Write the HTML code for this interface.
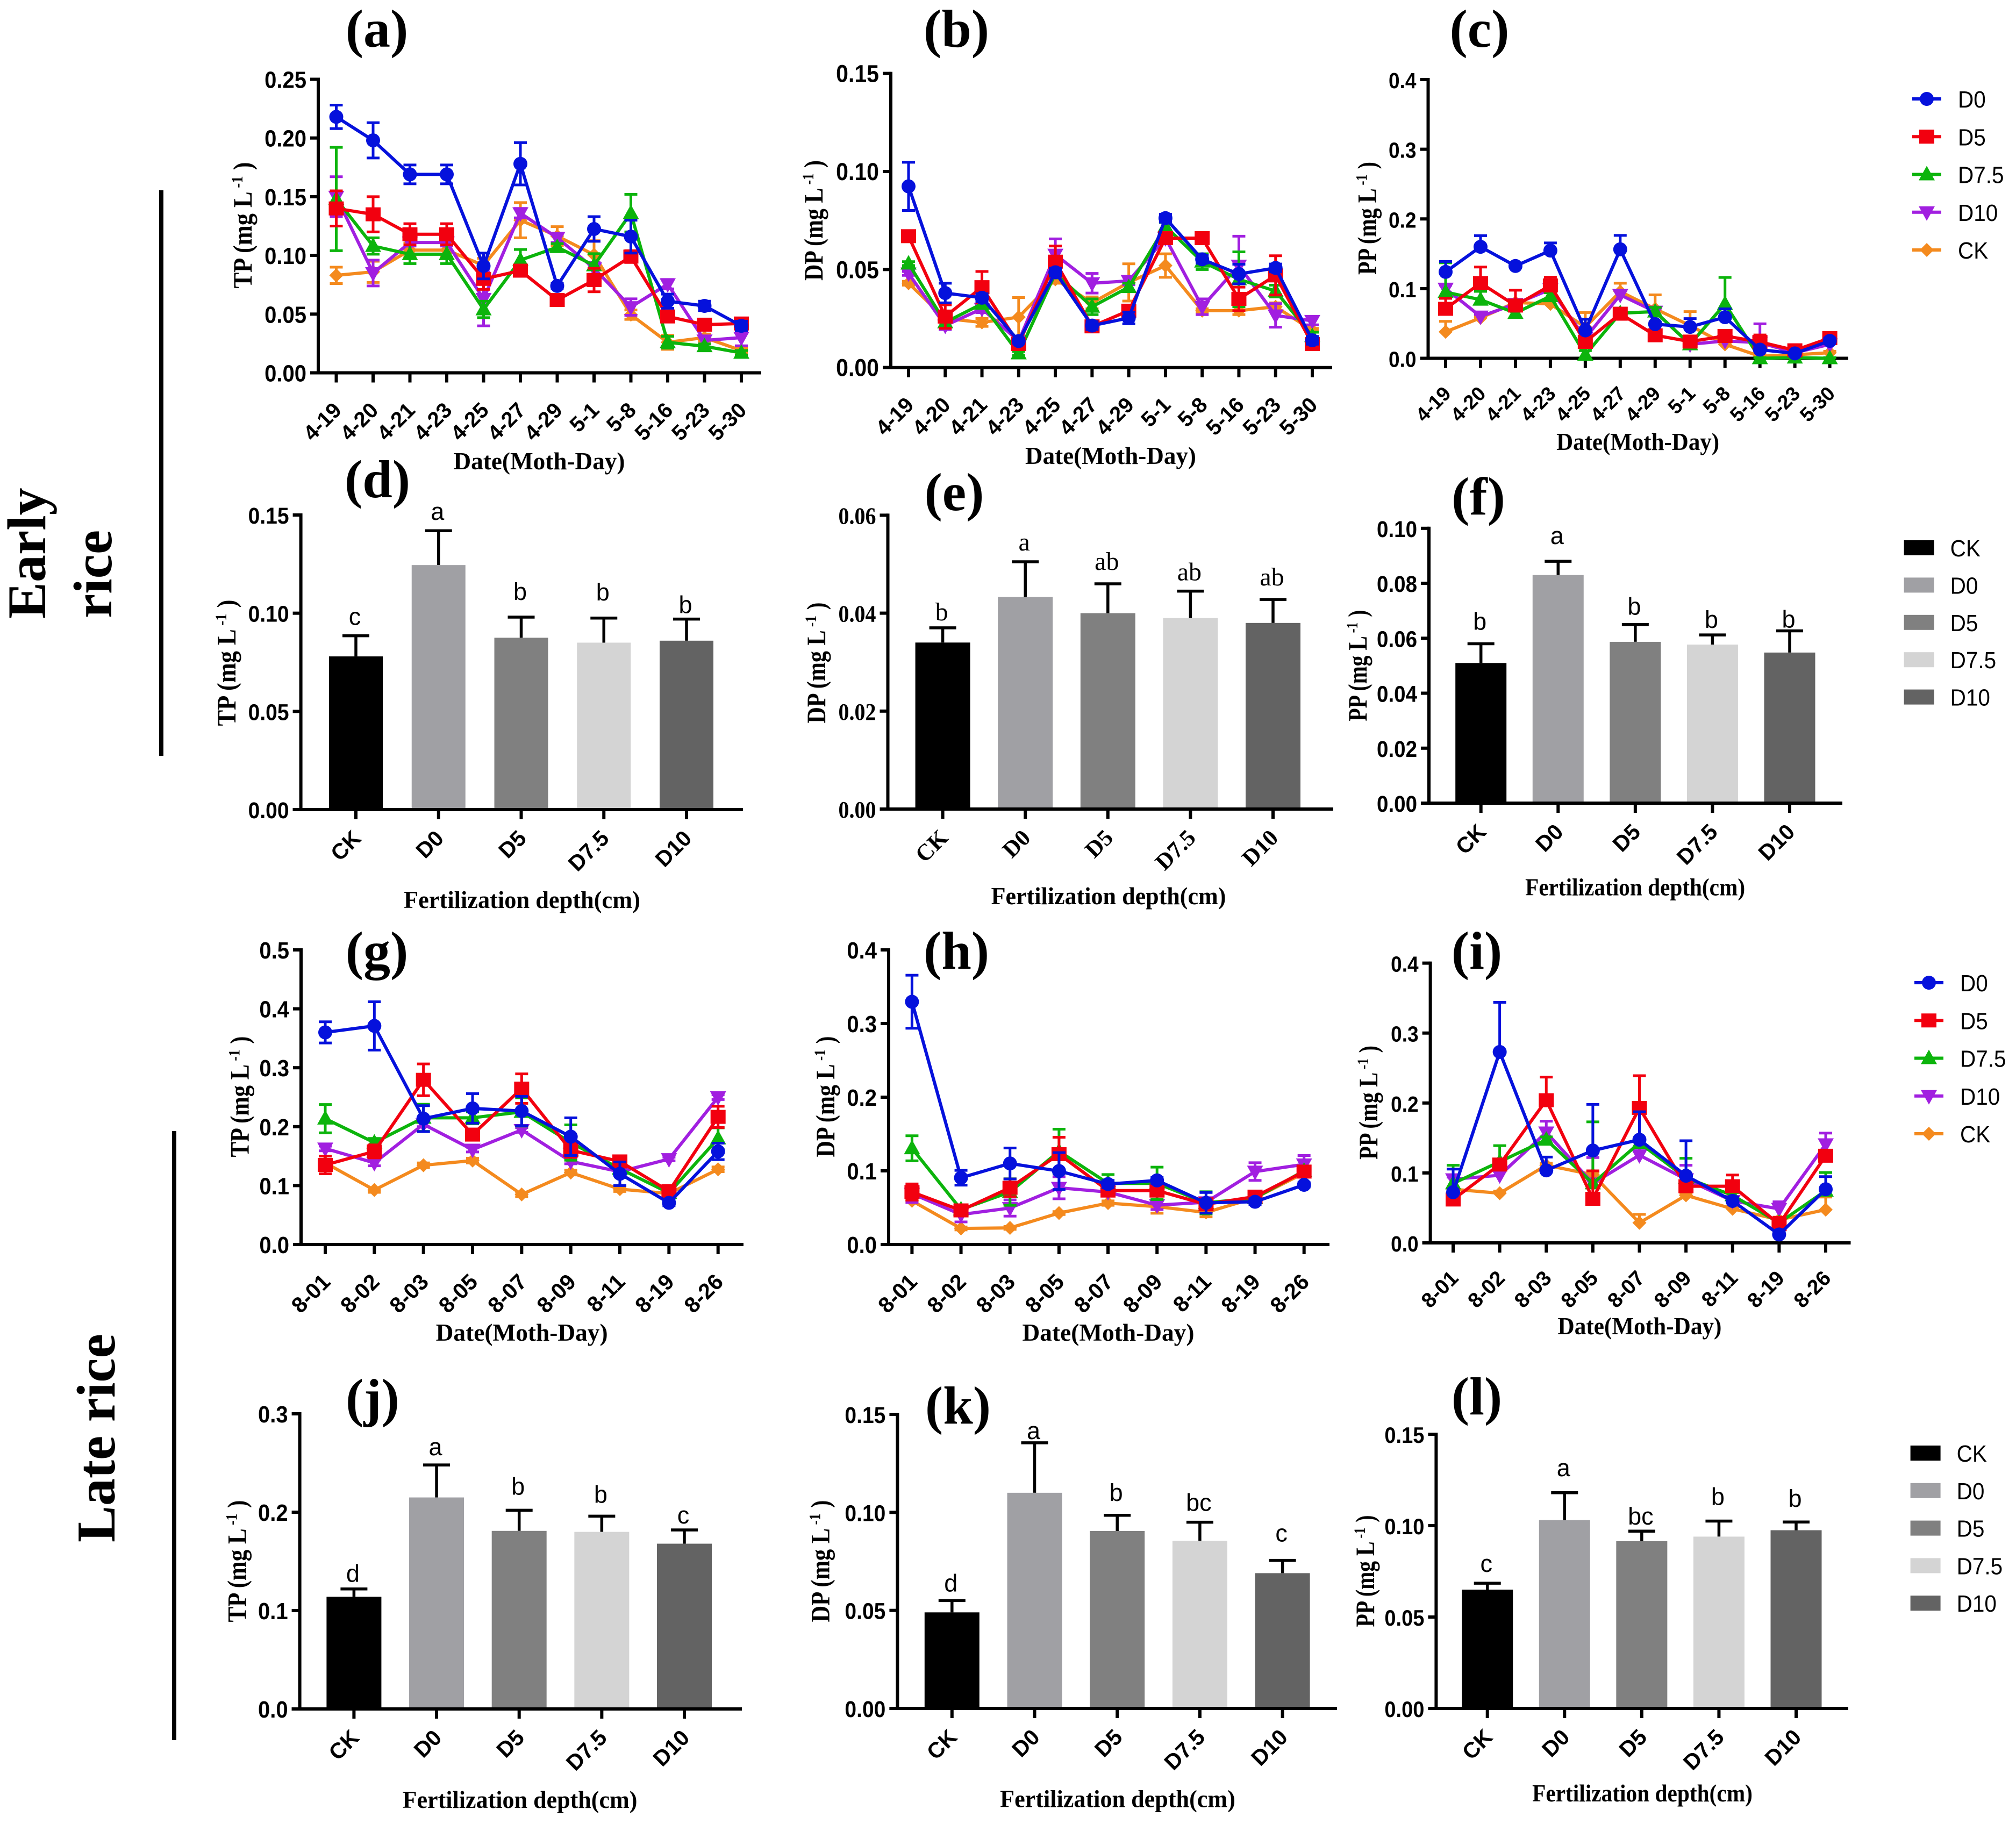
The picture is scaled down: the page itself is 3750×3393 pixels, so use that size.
<!DOCTYPE html>
<html lang="en">
<head>
<meta charset="utf-8">
<title>Phosphorus concentration by fertilization depth</title>
<style>
html,body{margin:0;padding:0;background:#fff;}
svg{display:block;}
text{fill:#000;}
</style>
</head>
<body>
<svg id="fig" xmlns="http://www.w3.org/2000/svg" width="3750" height="3393" viewBox="0 0 3750 3393">
<rect x="0" y="0" width="3750" height="3393" fill="#fff"/>
<g font-family="'Liberation Serif',serif" font-weight="700" font-size="100" text-anchor="middle">
<text x="701" y="87">(a)</text>
<text x="1779" y="87">(b)</text>
<text x="2752" y="87">(c)</text>
<text x="702" y="925">(d)</text>
<text x="1775" y="949">(e)</text>
<text x="2750" y="957">(f)</text>
<text x="701" y="1802">(g)</text>
<text x="1779" y="1802">(h)</text>
<text x="2747" y="1802">(i)</text>
<text x="693" y="2634">(j)</text>
<text x="1782" y="2648">(k)</text>
<text x="2747" y="2631">(l)</text>
</g>
<g font-family="'Liberation Serif',serif" font-weight="700" font-size="102">
<text transform="translate(84 1151) rotate(-90)">Early</text>
<text transform="translate(207 1150) rotate(-90)">rice</text>
<text transform="translate(213 2869) rotate(-90)">Late rice</text>
</g>
<rect x="296" y="354" width="8" height="1052" fill="#000"/>
<rect x="320" y="2104" width="8" height="1133" fill="#000"/>
<g id="plots"></g>
</svg>
<script>
const earlyDates=['4-19','4-20','4-21','4-23','4-25','4-27','4-29','5-1','5-8','5-16','5-23','5-30'];
const lateDates=['8-01','8-02','8-03','8-05','8-07','8-09','8-11','8-19','8-26'];
const depthCategories=['CK','D0','D5','D7.5','D10'];
const legendLineLabels=['D0','D5','D7.5','D10','CK'];

const aTicks=['0.00','0.05','0.10','0.15','0.20','0.25'];
const aD0=[.218,.198,.169,.169,.091,.178,.074,.1225,.116,.061,.057,.040];
const aD0Err=[.010,.015,.008,.008,.011,.018,.002,.0105,.014,.006,.004,.004];
const aD5=[.140,.135,.118,.118,.080,.087,.062,.079,.099,.048,.041,.042];
const aD5Err=[.015,.015,.009,.009,.009,.003,.002,.010,.005,.004,.003,.003];
const aD75=[.148,.108,.101,.101,.054,.096,.107,.0915,.136,.026,.0226,.017];
const aD75Err=[.044,.007,.008,.008,.007,.009,.003,.010,.016,.005,.002,.002];
const aD10=[.150,.085,.111,.111,.063,.136,.115,.089,.056,.0755,.0276,.030];
const aD10Err=[.017,.011,.003,.003,.023,.004,.004,.005,.007,.004,.003,.007];
const aCK=[.083,.086,.1045,.1045,.0915,.130,.1165,.1005,.0495,.026,.030,.019];
const aCKErr=[.007,.009,.006,.006,.006,.015,.008,.012,.004,.006,.003,.002];

const bTicks=['0.00','0.05','0.10','0.15'];
const bD0=[.0924,.038,.0356,.0135,.0486,.0214,.0253,.0762,.0552,.0477,.0508,.0139];
const bD0Err=[.0123,.005,.002,.001,.002,.002,.003,.002,.002,.005,.002,.002];
const bD5=[.067,.026,.041,.012,.054,.021,.029,.066,.066,.035,.047,.012];
const bD5Err=[.001,.006,.008,.001,.008,.001,.001,.001,.001,.006,.010,.001];
const bD75=[.053,.023,.0325,.0072,.048,.031,.041,.072,.054,.045,.039,.016];
const bD75Err=[.001,.002,.002,.001,.002,.004,.002,.002,.004,.014,.003,.002];
const bD10=[.048,.0214,.030,.0135,.0576,.043,.0442,.066,.031,.052,.0266,.0238];
const bD10Err=[.001,.002,.002,.001,.008,.005,.002,.002,.004,.015,.006,.002];
const bCK=[.043,.025,.023,.0257,.045,.033,.0434,.052,.029,.029,.031,.019];
const bCKErr=[.001,.002,.002,.010,.002,.003,.0095,.006,.001,.002,.002,.001];

const cTicks=['0.0','0.1','0.2','0.3','0.4'];
const cD0=[.124,.160,.1325,.1546,.040,.1564,.049,.045,.059,.0124,.007,.025];
const cD0Err=[.015,.016,.004,.011,.016,.020,.003,.012,.012,.004,.002,.004];
const cD5=[.071,.108,.0757,.1045,.0235,.064,.033,.024,.032,.0235,.0115,.029];
const cD5Err=[.015,.023,.022,.012,.004,.004,.003,.003,.004,.010,.003,.004];
const cD75=[.095,.084,.065,.089,.005,.0647,.067,.020,.078,.000,.001,.000];
const cD75Err=[.042,.012,.004,.005,.006,.004,.006,.005,.038,.001,.001,.001];
const cD10=[.100,.060,.078,.099,.029,.091,.067,.020,.025,.0225,.008,.020];
const cD10Err=[.005,.003,.005,.005,.004,.006,.005,.002,.002,.027,.002,.003];
const cCK=[.038,.058,.080,.078,.0447,.0957,.071,.047,.020,.003,.005,.008];
const cCKErr=[.015,.002,.003,.006,.021,.012,.020,.020,.002,.002,.001,.002];

const gTicks=['0.0','0.1','0.2','0.3','0.4','0.5'];
const gD0=[.360,.371,.2136,.231,.2265,.183,.120,.0707,.158];
const gD0Err=[.018,.041,.022,.025,.025,.032,.020,.005,.014];
const gD5=[.135,.158,.2795,.1865,.2646,.160,.141,.0905,.2166];
const gD5Err=[.015,.011,.027,.005,.025,.012,.004,.005,.018];
const gD75=[.2136,.173,.215,.215,.225,.173,.1286,.0875,.180];
const gD75Err=[.024,.007,.023,.010,.024,.030,.005,.004,.018];
const gD10=[.163,.1385,.204,.161,.1944,.141,.1236,.145,.250];
const gD10Err=[.004,.005,.004,.004,.004,.004,.004,.003,.004];
const gCK=[.1385,.0925,.1345,.1424,.085,.122,.094,.0865,.1276];
const gCKErr=[.004,.004,.004,.004,.004,.004,.004,.004,.004];

const hTicks=['0.0','0.1','0.2','0.3','0.4'];
const hD0=[.3296,.0906,.110,.0997,.082,.087,.0566,.058,.081];
const hD0Err=[.036,.010,.021,.025,.005,.004,.014,.004,.003];
const hD5=[.0712,.0463,.077,.1226,.0732,.0732,.0546,.065,.099];
const hD5Err=[.011,.005,.012,.023,.005,.006,.005,.003,.004];
const hD75=[.1306,.0475,.0712,.1266,.083,.083,.0566,.063,.100];
const hD75Err=[.017,.003,.018,.030,.012,.022,.015,.002,.005];
const hD10=[.069,.0407,.0495,.077,.0712,.0534,.0574,.099,.1088];
const hD10Err=[.012,.010,.011,.015,.004,.006,.004,.012,.012];
const hCK=[.0593,.0218,.0225,.0427,.0562,.0514,.0435,.0633,.097];
const hCKErr=[.002,.002,.002,.002,.003,.009,.006,.002,.002];

const iTicks=['0.0','0.1','0.2','0.3','0.4'];
const iD0=[.0725,.273,.1037,.132,.1475,.096,.060,.012,.0767];
const iD0Err=[.033,.071,.019,.066,.040,.050,.005,.006,.018];
const iD5=[.062,.112,.204,.063,.193,.081,.081,.0267,.1246];
const iD5Err=[.014,.004,.033,.040,.046,.005,.016,.010,.005];
const iD75=[.085,.116,.1475,.085,.143,.093,.068,.0287,.0746];
const iD75Err=[.026,.023,.004,.088,.055,.028,.004,.004,.026];
const iD10=[.091,.0967,.158,.085,.1254,.091,.060,.0487,.141];
const iD10Err=[.003,.005,.016,.037,.065,.020,.004,.010,.016];
const iCK=[.0767,.071,.111,.0975,.0287,.068,.0487,.033,.0475];
const iCKErr=[.003,.003,.003,.004,.012,.003,.003,.003,.018];

const dTicks=['0.00','0.05','0.10','0.15'];
const dMeans=[.078,.1245,.0875,.085,.086];
const dErrs=[.0105,.0175,.0105,.0125,.011];
const dLetters=['c','a','b','b','b'];

const eTicks=['0.00','0.02','0.04','0.06'];
const eMeans=[.034,.0433,.040,.039,.038];
const eErrs=[.003,.0072,.006,.0055,.0048];
const eLetters=['b','a','ab','ab','ab'];

const fTicks=['0.00','0.02','0.04','0.06','0.08','0.10'];
const fMeans=[.051,.083,.0587,.0577,.0548];
const fErrs=[.007,.005,.0063,.0035,.0079];
const fLetters=['b','a','b','b','b'];

const jTicks=['0.0','0.1','0.2','0.3'];
const jMeans=[.114,.215,.181,.180,.168];
const jErrs=[.008,.033,.021,.016,.014];
const jLetters=['d','a','b','b','c'];

const kTicks=['0.00','0.05','0.10','0.15'];
const kMeans=[.049,.110,.0905,.0855,.069];
const kErrs=[.006,.0255,.008,.0095,.0065];
const kLetters=['d','a','b','bc','c'];

const lTicks=['0.00','0.05','0.10','0.15'];
const lMeans=[.065,.103,.0915,.094,.0975];
const lErrs=[.0035,.015,.0055,.0085,.0045];
const lLetters=['c','a','bc','b','b'];

const SVGNS='http://www.w3.org/2000/svg';
const SANS="'Liberation Sans',sans-serif";
const SERIF="'Liberation Serif',serif";
const plots=document.getElementById('plots');
const seriesStyle={CK:{color:'#f48a1e',shape:'diamond'},D10:{color:'#a11fe0',shape:'down'},'D7.5':{color:'#0cb40c',shape:'up'},D5:{color:'#f2000f',shape:'square'},D0:{color:'#0511dc',shape:'circle'}};
const barFill={CK:'#000000',D0:'#a0a0a4','D5':'#808080','D7.5':'#d4d4d4',D10:'#636363'};

function mk(parent,tag,attrs,txt){
  const e=document.createElementNS(SVGNS,tag);
  for(const k in attrs)e.setAttribute(k,attrs[k]);
  if(txt!==undefined)e.textContent=txt;
  parent.appendChild(e);
  return e;
}
function fitText(el,x,y,rot,len){
  const natural=el.getComputedTextLength()||len;
  el.setAttribute('transform','translate('+x+' '+y+') rotate('+rot+') scale('+(len/natural)+' 1)');
}
function marker(g,shape,cx,cy,color){
  if(shape==='circle')return mk(g,'circle',{cx:cx,cy:cy,r:13,fill:color});
  if(shape==='square')return mk(g,'rect',{x:cx-14,y:cy-13,width:28,height:26,fill:color});
  const p=shape==='up'?[[cx,cy-16],[cx+15,cy+11],[cx-15,cy+11]]:shape==='down'?[[cx,cy+16],[cx+15,cy-11],[cx-15,cy-11]]:[[cx,cy-13],[cx+13,cy],[cx,cy+13],[cx-13,cy]];
  return mk(g,'polygon',{points:p.map(q=>q.join(',')).join(' '),fill:color});
}
function drawFrame(g,p,cats,xFn,yFn){
  const tickFont=p.serif?SERIF:SANS;
  const yAxis=mk(g,'line',{x1:p.axisX,x2:p.axisX,y1:p.yTop-3,y2:p.yZero+3,stroke:'#000','stroke-width':6});
  
  
  const xAxis=mk(g,'line',{x1:p.axisX-15,x2:p.xEnd,y1:p.yZero,y2:p.yZero,stroke:'#000','stroke-width':6});
  
  
  p.ticks.forEach(t=>{
    const yy=yFn(parseFloat(t));
    const tk=mk(g,'line',{x1:p.axisX-15,x2:p.axisX,y1:yy,y2:yy,stroke:'#000','stroke-width':6});
    
    
    const lb=mk(g,'text',{'text-anchor':'end','font-family':tickFont,'font-weight':700,'font-size':p.tickFs*1.1,transform:'translate('+(p.axisX-22)+' '+(yy+16)+') scale(.91 1)'},t);
    
    
  });
  cats.forEach((c,i)=>{
    const xx=xFn(i);
    const tk=mk(g,'line',{x1:xx,x2:xx,y1:p.yZero,y2:p.yZero+18,stroke:'#000','stroke-width':6});
    
    
    const lb=mk(g,'text',{'text-anchor':'end','font-family':tickFont,'font-weight':700,'font-size':p.catFs,transform:'translate('+(xx+12)+' '+(p.yZero+p.catDrop)+') rotate(-45)'},c);
    
    
  });
  const xt=mk(g,'text',{'text-anchor':'middle','font-family':SERIF,'font-weight':700,'font-size':46},p.xTitle[3]);
  
  
  fitText(xt,p.xTitle[0],p.xTitle[1],0,p.xTitle[2]);
  const yt=mk(g,'text',{'text-anchor':'middle','font-family':SERIF,'font-weight':700,'font-size':50});
  
  
  mk(yt,'tspan',{},p.yName+' (mg L');
  mk(yt,'tspan',{dy:-17,'font-size':30},' -1');
  mk(yt,'tspan',{dy:17},' )');
  fitText(yt,p.yTitle[0],p.yTitle[1],-90,p.yTitle[2]);
}
function lineChart(p){
  const g=mk(plots,'g',{});
  
  
  const tops=p.ticks.map(parseFloat);
  const yMax=Math.max.apply(null,tops);
  const yFn=v=>p.yZero-(v/yMax)*(p.yZero-p.yTop);
  const n=p.cats.length;
  const xFn=i=>p.xFirst+i*(p.xLast-p.xFirst)/(n-1);
  drawFrame(g,p,p.cats,xFn,yFn);
  p.series.forEach(s=>{
    const st=seriesStyle[s.name];
    const sg=mk(g,'g',{});
    
    
    s.vals.forEach((v,i)=>{
      const xx=xFn(i),yc=yFn(v),yt=yFn(v+s.errs[i]),yb=p.both?yFn(Math.max(v-s.errs[i],0)):yc;
      const eb=mk(sg,'path',{d:'M'+(xx-12)+' '+yt+'H'+(xx+12)+'M'+xx+' '+yt+'V'+yb+(p.both?'M'+(xx-12)+' '+yb+'H'+(xx+12):''),stroke:st.color,'stroke-width':5,fill:'none'});
      
      
    });
    const ln=mk(sg,'polyline',{points:s.vals.map((v,i)=>xFn(i)+','+yFn(v)).join(' '),fill:'none',stroke:st.color,'stroke-width':6,'stroke-linejoin':'round'});
    
    
    s.vals.forEach((v,i)=>{
      const m=marker(sg,st.shape,xFn(i),yFn(v),st.color);
      
      
    });
  });
}
function barChart(p){
  const g=mk(plots,'g',{});
  
  
  const tops=p.ticks.map(parseFloat);
  const yMax=Math.max.apply(null,tops);
  const yFn=v=>p.yZero-(v/yMax)*(p.yZero-p.yTop);
  const n=depthCategories.length;
  const xFn=i=>p.xFirst+i*(p.xLast-p.xFirst)/(n-1);
  p.means.forEach((v,i)=>{
    const xx=xFn(i),yb=yFn(v),yt=yFn(v+p.errs[i]);
    const eb=mk(g,'path',{d:'M'+(xx-25)+' '+yt+'H'+(xx+25)+'M'+xx+' '+yt+'V'+yb,stroke:'#000','stroke-width':5.5,fill:'none'});
    
    
    const r=mk(g,'rect',{x:xx-p.barW/2,y:yb,width:p.barW,height:p.yZero-yb,fill:barFill[depthCategories[i]]});
    
    
    const lb=mk(g,'text',{x:xx-2,y:yt-p.lift[i]+15,'text-anchor':'middle','font-family':p.serif?SERIF:SANS,'font-size':p.serif?48:45},p.letters[i]);
    
    
  });
  drawFrame(g,p,depthCategories,xFn,yFn);
}
function lineLegend(x,y0,step){
  const g=mk(plots,'g',{});
  
  
  legendLineLabels.forEach((nm,i)=>{
    const st=seriesStyle[nm];
    const yy=y0+i*step;
    const en=mk(g,'g',{});
    
    
    mk(en,'line',{x1:x,x2:x+54,y1:yy,y2:yy,stroke:st.color,'stroke-width':6});
    marker(en,st.shape,x+27,yy,st.color);
    mk(en,'text',{'font-family':SANS,'font-size':44,transform:'translate('+(x+85)+' '+(yy+16)+') scale(.92 1)'},nm);
  });
}
function barLegend(x,y0,step){
  const g=mk(plots,'g',{});
  
  
  depthCategories.forEach((nm,i)=>{
    const yy=y0+i*step;
    const en=mk(g,'g',{});
    
    
    mk(en,'rect',{x:x,y:yy-14,width:56,height:28,fill:barFill[nm]});
    mk(en,'text',{'font-family':SANS,'font-size':44,transform:'translate('+(x+86)+' '+(yy+16)+') scale(.92 1)'},nm);
  });
}
const DATE_TITLE='Date(Moth-Day)';
const DEPTH_TITLE='Fertilization depth(cm)';
function bundle(d0,d0e,d5,d5e,d75,d75e,d10,d10e,ck,cke){
  return [{name:'CK',vals:ck,errs:cke},{name:'D10',vals:d10,errs:d10e},{name:'D7.5',vals:d75,errs:d75e},{name:'D5',vals:d5,errs:d5e},{name:'D0',vals:d0,errs:d0e}];
}
lineChart({id:'a',cats:earlyDates,ticks:aTicks,yName:'TP',axisX:592,xFirst:625.5,xLast:1379,xEnd:1416,yTop:147.5,yZero:693.5,tickFs:40,catFs:40,catDrop:72,both:true,xTitle:[1003,873,319,DATE_TITLE],yTitle:[468,419,235],series:bundle(aD0,aD0Err,aD5,aD5Err,aD75,aD75Err,aD10,aD10Err,aCK,aCKErr)});
lineChart({id:'b',cats:earlyDates,ticks:bTicks,yName:'DP',axisX:1657,xFirst:1690,xLast:2441,xEnd:2478,yTop:136.6,yZero:683.7,tickFs:41,catFs:40,catDrop:72,both:true,xTitle:[2066,863,318,DATE_TITLE],yTitle:[1530,410,224],series:bundle(bD0,bD0Err,bD5,bD5Err,bD75,bD75Err,bD10,bD10Err,bCK,bCKErr)});
lineChart({id:'c',cats:earlyDates,ticks:cTicks,yName:'PP',axisX:2656.5,xFirst:2689,xLast:3403.6,xEnd:3438,yTop:148,yZero:666.5,tickFs:37,catFs:37,catDrop:68,both:false,xTitle:[3046.6,837,303,DATE_TITLE],yTitle:[2559.5,406,210],series:bundle(cD0,cD0Err,cD5,cD5Err,cD75,cD75Err,cD10,cD10Err,cCK,cCKErr)});
lineChart({id:'g',cats:lateDates,ticks:gTicks,yName:'TP',axisX:560,xFirst:605,xLast:1335.7,xEnd:1383,yTop:1767,yZero:2315,tickFs:40,catFs:41,catDrop:72,both:true,xTitle:[970.6,2494,320,DATE_TITLE],yTitle:[462.5,2040,225],series:bundle(gD0,gD0Err,gD5,gD5Err,gD75,gD75Err,gD10,gD10Err,gCK,gCKErr)});
lineChart({id:'h',cats:lateDates,ticks:hTicks,yName:'DP',axisX:1653,xFirst:1696.4,xLast:2425.7,xEnd:2473,yTop:1767,yZero:2315,tickFs:40,catFs:41,catDrop:72,both:true,xTitle:[2061.5,2494,320,DATE_TITLE],yTitle:[1552,2040,225],series:bundle(hD0,hD0Err,hD5,hD5Err,hD75,hD75Err,hD10,hD10Err,hCK,hCKErr)});
lineChart({id:'i',cats:lateDates,ticks:iTicks,yName:'PP',axisX:2660.6,xFirst:2703,xLast:3396,xEnd:3442.5,yTop:1791.6,yZero:2312,tickFs:37,catFs:39,catDrop:68,both:false,xTitle:[3050,2482,305,DATE_TITLE],yTitle:[2562,2051,212],series:bundle(iD0,iD0Err,iD5,iD5Err,iD75,iD75Err,iD10,iD10Err,iCK,iCKErr)});
barChart({id:'d',ticks:dTicks,yName:'TP',means:dMeans,errs:dErrs,letters:dLetters,axisX:559.6,xFirst:662,xLast:1277,xEnd:1382,yTop:958,yZero:1506,barW:100,tickFs:39,catFs:41,catDrop:56,lift:[35,35,47,48,26],xTitle:[971,1689,440,DEPTH_TITLE],yTitle:[438,1233,235]});
barChart({id:'e',serif:true,ticks:eTicks,yName:'DP',means:eMeans,errs:eErrs,letters:eLetters,axisX:1651.5,xFirst:1753.6,xLast:2368,xEnd:2480,yTop:958.4,yZero:1505,barW:102,tickFs:40,catFs:43,catDrop:56,lift:[29,36,41,35,41],xTitle:[2062,1682,437,DEPTH_TITLE],yTitle:[1535,1233,225]});
barChart({id:'f',ticks:fTicks,yName:'PP',means:fMeans,errs:fErrs,letters:fLetters,axisX:2658,xFirst:2754.7,xLast:3329,xEnd:3427,yTop:982.8,yZero:1494,barW:95,tickFs:38.5,catFs:41,catDrop:56,lift:[41,47,33,28,21],xTitle:[3041.6,1665.7,409,DEPTH_TITLE],yTitle:[2542,1238,207]});
barChart({id:'j',ticks:jTicks,yName:'TP',means:jMeans,errs:jErrs,letters:jLetters,axisX:557.6,xFirst:658.4,xLast:1273,xEnd:1380,yTop:2630,yZero:3179,barW:102,tickFs:40,catFs:41,catDrop:56,lift:[28,33,44,40,27],xTitle:[967,3363,437,DEPTH_TITLE],yTitle:[457.7,2904,227]});
barChart({id:'k',ticks:kTicks,yName:'DP',means:kMeans,errs:kErrs,letters:kLetters,axisX:1669.4,xFirst:1770.8,xLast:2385.6,xEnd:2487,yTop:2631,yZero:3178,barW:102,tickFs:39,catFs:41,catDrop:56,lift:[32,22,42,36,50],xTitle:[2079,3361.6,438,DEPTH_TITLE],yTitle:[1542.5,2904,227]});
barChart({id:'l',ticks:lTicks,yName:'PP',means:lMeans,errs:lErrs,letters:lLetters,axisX:2671.4,xFirst:2766.7,xLast:3341,xEnd:3438,yTop:2668,yZero:3178,barW:95,tickFs:38,catFs:41,catDrop:56,lift:[36,46,27,45,43],xTitle:[3055,3351,410,DEPTH_TITLE],yTitle:[2556,2922.5,208]});
lineLegend(3557,184,70.25);
barLegend(3541.6,1019,69.4);
lineLegend(3561,1828,70.25);
barLegend(3553.6,2703,69.8);
</script>
</body>
</html>
